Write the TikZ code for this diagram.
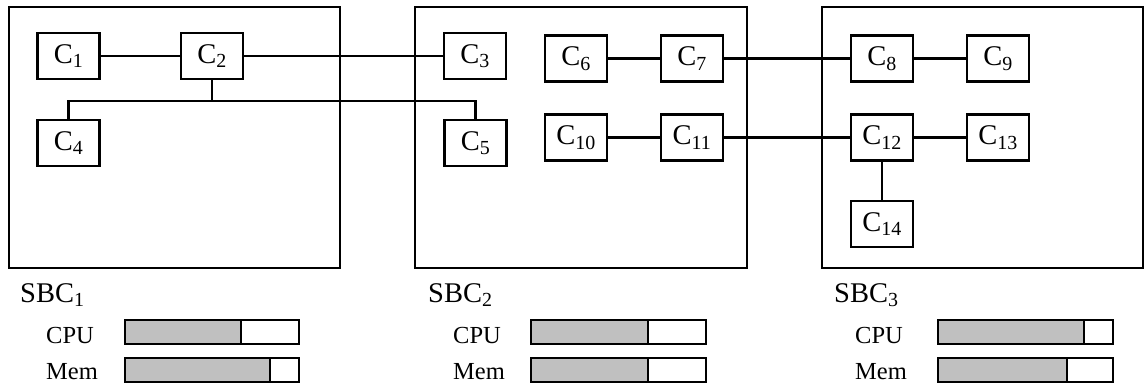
\documentclass[tikz,border=0pt]{standalone}
\usepackage{fontspec}
\setmainfont{Liberation Serif}
\usepackage{xcolor}
\usepackage{tikz}
\usetikzlibrary{positioning}
\definecolor{SBCGray}{RGB}{192, 192, 192}
\definecolor{SBCLine}{RGB}{0, 0, 0}

\tikzset{
  sbcbox/.style={draw=SBCLine, line width=2.8pt},
  comp/.style={draw=SBCLine, line width=2.8pt, minimum width=62pt, minimum height=46pt,
    inner sep=0pt, font=\fontsize{28.5}{31}\selectfont},
  link/.style={SBCLine, line width=2.4pt},
  sbclabel/.style={anchor=base west, inner sep=0pt, font=\fontsize{28.5}{31}\selectfont},
  uselabel/.style={anchor=base west, inner sep=0pt, font=\fontsize{24.5}{27}\selectfont},
  barframe/.style={draw=SBCLine, line width=2.8pt},
}

\begin{document}
\begin{tikzpicture}[x=1pt,y=-1pt]
  \path[use as bounding box] (0,0) rectangle (1146,385);

  % boards
  \draw[sbcbox] (9,7) rectangle (340,268);
  \draw[sbcbox] (415,7) rectangle (747,268);
  \draw[sbcbox] (822,7) rectangle (1143,268);

  % components
  \node[comp] (c1) at (68.5,56) {C\textsubscript{1}};
  \node[comp] (c2) at (212,56) {C\textsubscript{2}};
  \node[comp] (c3) at (475,56) {C\textsubscript{3}};
  \node[comp] (c4) at (68.5,143) {C\textsubscript{4}};
  \node[comp] (c5) at (475.5,143) {C\textsubscript{5}};
  \node[comp] (c6) at (576,58.5) {C\textsubscript{6}};
  \node[comp] (c7) at (692,58.5) {C\textsubscript{7}};
  \node[comp] (c8) at (882,58.5) {C\textsubscript{8}};
  \node[comp] (c9) at (998,58.5) {C\textsubscript{9}};
  \node[comp] (c10) at (576,137.5) {C\textsubscript{10}};
  \node[comp] (c11) at (692,137.5) {C\textsubscript{11}};
  \node[comp] (c12) at (882,137.5) {C\textsubscript{12}};
  \node[comp] (c13) at (998,137.5) {C\textsubscript{13}};
  \node[comp] (c14) at (882,224) {C\textsubscript{14}};

  % links
  \coordinate (split) at (212,101);
  \draw[link] (c1) -- (c2);
  \draw[link] (c2) -- (c3);
  \draw[link] (c2) -- (split);
  \draw[link] (c4.north) |- (split) -| (c5.north);
  \draw[link] (c6) -- (c7);
  \draw[link] (c7) -- (c8);
  \draw[link] (c8) -- (c9);
  \draw[link] (c10) -- (c11);
  \draw[link] (c11) -- (c12);
  \draw[link] (c12) -- (c13);
  \draw[link] (c12) -- (c14);

  % SBC 1
  \node[sbclabel] (sbc1) at (20,302) {SBC\textsubscript{1}};
  \node[uselabel] (cpu1) at (46,343) {CPU};
  \node[uselabel] (mem1) at (46,379) {Mem};
  \fill[SBCGray] (125,320) rectangle (241,344);
  \draw[barframe] (125,320) rectangle (299,344);
  \draw[barframe] (241,320) -- (241,344);
  \fill[SBCGray] (125,358) rectangle (270,382);
  \draw[barframe] (125,358) rectangle (299,382);
  \draw[barframe] (270,358) -- (270,382);

  % SBC 2
  \node[sbclabel] (sbc2) at (428,302) {SBC\textsubscript{2}};
  \node[uselabel] (cpu2) at (453,343) {CPU};
  \node[uselabel] (mem2) at (453,379) {Mem};
  \fill[SBCGray] (531,320) rectangle (648,344);
  \draw[barframe] (531,320) rectangle (706,344);
  \draw[barframe] (648,320) -- (648,344);
  \fill[SBCGray] (531,358) rectangle (648,382);
  \draw[barframe] (531,358) rectangle (706,382);
  \draw[barframe] (648,358) -- (648,382);

  % SBC 3
  \node[sbclabel] (sbc3) at (834,302) {SBC\textsubscript{3}};
  \node[uselabel] (cpu3) at (855,343) {CPU};
  \node[uselabel] (mem3) at (855,379) {Mem};
  \fill[SBCGray] (938,320) rectangle (1084,344);
  \draw[barframe] (938,320) rectangle (1113,344);
  \draw[barframe] (1084,320) -- (1084,344);
  \fill[SBCGray] (938,358) rectangle (1067,382);
  \draw[barframe] (938,358) rectangle (1113,382);
  \draw[barframe] (1067,358) -- (1067,382);
\end{tikzpicture}
\end{document}
